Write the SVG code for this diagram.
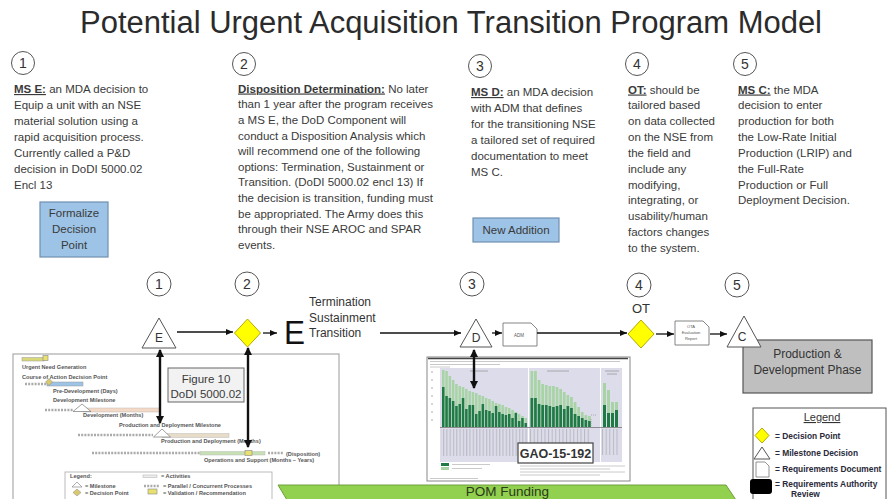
<svg xmlns="http://www.w3.org/2000/svg" width="887" height="499" viewBox="0 0 887 499">
<defs>
<style>
text{font-family:"Liberation Sans",Arial,sans-serif}
.t{font-size:11.5px;fill:#3a3a3a}
.b{font-weight:bold;text-decoration:underline}
.num{font-size:14px;fill:#333;text-anchor:middle}
.circ{fill:#fff;stroke:#555;stroke-width:1}
.conn{stroke:#111;stroke-width:1.3;fill:none;marker-end:url(#ah)}
.dbl{stroke:#111;stroke-width:2.4;fill:none;marker-end:url(#ah2);marker-start:url(#ah2)}
.ms{fill:#fff;stroke:#555;stroke-width:1}
.dp{fill:#FFFF00;stroke:#B8A800;stroke-width:1}
.tiny{font-size:5.6px;font-weight:bold;fill:#555}
.leg{font-size:8.4px;font-weight:bold;fill:#2a2a3a}
.dash{stroke:#aaa;stroke-width:2.4;stroke-dasharray:2 1.2;fill:none}
</style>
<marker id="ah" markerWidth="7" markerHeight="6" refX="7" refY="3" orient="auto" markerUnits="userSpaceOnUse"><path d="M0,0L7,3L0,6z" fill="#111"/></marker>
<marker id="ah2" markerWidth="8" markerHeight="8" refX="7" refY="4" orient="auto-start-reverse" markerUnits="userSpaceOnUse"><path d="M0,0L8,4L0,8z" fill="#111"/></marker>
<pattern id="vlab" width="3.3" height="4" patternUnits="userSpaceOnUse"><rect x="1" y="0" width="0.9" height="4" fill="#b0b0b8"/></pattern>
<pattern id="vlab2" width="3.6" height="4" patternUnits="userSpaceOnUse"><rect x="1" y="0" width="0.9" height="4" fill="#b0b0b8"/></pattern>
</defs>
<rect width="887" height="499" fill="#fff"/>

<text x="451" y="33" font-size="31" fill="#2b2b2b" text-anchor="middle" textLength="742" lengthAdjust="spacingAndGlyphs">Potential Urgent Acquisition Transition Program Model</text>

<!-- top description blocks -->
<g id="desc1">
<circle class="circ" cx="23" cy="63" r="11.5"/><text class="num" x="23" y="68">1</text>
<text class="t" x="14" y="93"><tspan class="b">MS E:</tspan> an MDA decision to</text>
<text class="t" x="14" y="109">Equip a unit with an NSE</text>
<text class="t" x="14" y="125">material solution using a</text>
<text class="t" x="14" y="141">rapid acquisition process.</text>
<text class="t" x="14" y="157">Currently called  a P&amp;D</text>
<text class="t" x="14" y="173">decision in DoDI 5000.02</text>
<text class="t" x="14" y="189">Encl 13</text>
</g>
<g id="formalize">
<rect x="40" y="202" width="68" height="55" fill="#9DC3E6" stroke="#7090B0" stroke-width="1.2"/>
<text class="t" x="74" y="217" text-anchor="middle">Formalize</text>
<text class="t" x="74" y="233" text-anchor="middle">Decision</text>
<text class="t" x="74" y="249" text-anchor="middle">Point</text>
</g>
<g id="desc2">
<circle class="circ" cx="244" cy="64" r="11.5"/><text class="num" x="244" y="69">2</text>
<text class="t" x="238" y="92.5"><tspan class="b">Disposition Determination:</tspan> No later</text>
<text class="t" x="238" y="108.2">than 1 year after the program receives</text>
<text class="t" x="238" y="123.8">a MS E, the DoD Component will</text>
<text class="t" x="238" y="139.5">conduct a Disposition Analysis which</text>
<text class="t" x="238" y="155.1">will recommend one of the following</text>
<text class="t" x="238" y="170.8">options: Termination, Sustainment or</text>
<text class="t" x="238" y="186.4">Transition. (DoDI 5000.02 encl 13)  If</text>
<text class="t" x="238" y="202.1">the decision is transition, funding must</text>
<text class="t" x="238" y="217.7">be appropriated.  The Army does this</text>
<text class="t" x="238" y="233.4">through their NSE AROC and SPAR</text>
<text class="t" x="238" y="249">events.</text>
</g>
<g id="desc3">
<circle class="circ" cx="480" cy="66" r="11.5"/><text class="num" x="480" y="71">3</text>
<text class="t" x="471" y="96"><tspan class="b">MS D:</tspan> an MDA decision</text>
<text class="t" x="471" y="112">with ADM that defines</text>
<text class="t" x="471" y="128">for the transitioning NSE</text>
<text class="t" x="471" y="144">a tailored set of required</text>
<text class="t" x="471" y="160">documentation to meet</text>
<text class="t" x="471" y="176">MS C.</text>
</g>
<g id="newaddition">
<rect x="473" y="218" width="86" height="24" fill="#9DC3E6" stroke="#7090B0" stroke-width="1.2"/>
<text class="t" x="516" y="234" text-anchor="middle">New Addition</text>
</g>
<g id="desc4">
<circle class="circ" cx="637" cy="64" r="11.5"/><text class="num" x="637" y="69">4</text>
<text class="t" x="628" y="93.5"><tspan class="b">OT:</tspan>  should be</text>
<text class="t" x="628" y="109.3">tailored based</text>
<text class="t" x="628" y="125.2">on data collected</text>
<text class="t" x="628" y="141">on the NSE from</text>
<text class="t" x="628" y="156.9">the field and</text>
<text class="t" x="628" y="172.7">include any</text>
<text class="t" x="628" y="188.6">modifying,</text>
<text class="t" x="628" y="204.4">integrating, or</text>
<text class="t" x="628" y="220.3">usability/human</text>
<text class="t" x="628" y="236.1">factors changes</text>
<text class="t" x="628" y="252">to the system.</text>
</g>
<g id="desc5">
<circle class="circ" cx="745" cy="64" r="11.5"/><text class="num" x="745" y="69">5</text>
<text class="t" x="738" y="93.5"><tspan class="b">MS C:</tspan> the MDA</text>
<text class="t" x="738" y="109.3">decision to enter</text>
<text class="t" x="738" y="125.2">production for both</text>
<text class="t" x="738" y="141">the Low-Rate Initial</text>
<text class="t" x="738" y="156.9">Production (LRIP) and</text>
<text class="t" x="738" y="172.7">the Full-Rate</text>
<text class="t" x="738" y="188.6">Production or Full</text>
<text class="t" x="738" y="204.4">Deployment Decision.</text>
</g>

<!-- left figure (DoDI 5000.02 Figure 10) -->
<g id="figure10">
<rect x="13" y="354" width="326" height="160" fill="#fff" stroke="#999" stroke-width="1"/>
<rect x="22" y="357.5" width="22" height="3.5" fill="#D8D87A" stroke="#999" stroke-width="0.5"/>
<rect x="43" y="355.5" width="5" height="5" fill="#E8E070" stroke="#888" stroke-width="0.6"/>
<text class="tiny" x="22" y="369">Urgent Need Generation</text>
<text class="tiny" x="22" y="379">Course of Action Decision Point</text>
<path class="dash" d="M25,384H47"/>
<rect x="47" y="382" width="36" height="4" fill="#9DC3E6" stroke="#999" stroke-width="0.5"/>
<path d="M49,378.5L52.5,382L49,385.5L45.5,382z" fill="#D8C870" stroke="#888" stroke-width="0.5"/>
<text class="tiny" x="53" y="393">Pre-Development  (Days)</text>
<text class="tiny" x="53" y="402">Development Milestone</text>
<path class="dash" d="M45,410H73"/>
<rect x="83" y="408" width="77" height="4" fill="#F4D9C6" stroke="#bbb" stroke-width="0.5"/>
<path d="M82,404L91,411.5H73z" fill="#fff" stroke="#777" stroke-width="0.7"/>
<text class="tiny" x="83" y="417">Development (Months)</text>
<text class="tiny" x="119" y="427">Production and Deployment Milestone</text>
<path class="dash" d="M78,435H153"/>
<rect x="162" y="433.5" width="67" height="4" fill="#E6DCC8" stroke="#bbb" stroke-width="0.5"/>
<path d="M162,429L170.5,437H153.5z" fill="#fff" stroke="#777" stroke-width="0.7"/>
<text class="tiny" x="161" y="443">Production and Deployment (Months)</text>
<path class="dash" d="M92,453H200"/>
<rect x="200" y="451.5" width="65" height="3.5" fill="#C6E0B4" stroke="#bbb" stroke-width="0.5"/>
<rect x="245" y="450.5" width="7" height="5" fill="#E8E070" stroke="#888" stroke-width="0.6"/>
<path class="dash" d="M268,453H283"/>
<text class="tiny" x="286" y="456">(Disposition)</text>
<text class="tiny" x="204" y="462">Operations and Support (Months – Years)</text>
<rect x="65" y="472" width="207" height="40" fill="#fff" stroke="#aaa" stroke-width="0.8"/>
<text class="tiny" x="70" y="478">Legend:</text>
<path d="M77,482L82,487H72z" fill="#fff" stroke="#777" stroke-width="0.6"/>
<text class="tiny" x="85" y="488">= Milestone</text>
<path d="M77,489L81,492.5L77,496L73,492.5z" fill="#D8C870" stroke="#888" stroke-width="0.5"/>
<text class="tiny" x="85" y="495">= Decision Point</text>
<rect x="143" y="475" width="14" height="2.5" fill="#eee" stroke="#aaa" stroke-width="0.5"/>
<text class="tiny" x="161" y="478">= Activities</text>
<path class="dash" d="M144,486H160" stroke-width="2"/>
<text class="tiny" x="163" y="488">= Parallel / Concurrent Processes</text>
<rect x="148" y="489" width="9" height="5" fill="#E8E070" stroke="#888" stroke-width="0.6"/>
<text class="tiny" x="163" y="495">= Validation / Recommendation</text>
<rect x="168" y="368" width="76" height="34" fill="#F2F2F2" stroke="#666" stroke-width="1"/>
<text class="t" x="206" y="383" text-anchor="middle" font-size="12">Figure 10</text>
<text class="t" x="206" y="398" text-anchor="middle" font-size="12">DoDI 5000.02</text>
</g>

<!-- GAO chart -->
<g id="gao">
<rect x="427" y="357" width="203" height="124" fill="#fff" stroke="#888" stroke-width="1"/>
<path d="M428,358.5H628" stroke="#444" stroke-width="1.4"/>
<path d="M430,361.5H620M430,364.5H500M430,367H450" stroke="#bbb" stroke-width="0.8"/>
<rect x="440" y="368" width="88" height="94" fill="#DCDCEA"/>
<rect x="529" y="368" width="71" height="94" fill="#DCDCEA"/>
<rect x="601" y="368" width="21" height="94" fill="#DCDCEA"/>
<path d="M431,372h2M431,380h2M431,388h2M431,396h2M431,404h2M431,412h2M431,420h2" stroke="#999" stroke-width="0.8"/>
<path d="M470,371h18M547,371h22M605,371h14M607,374h10" stroke="#999" stroke-width="0.8"/>
<path fill="#A7D3A5" d="M442,370h2.5V427h-2.5ZM445.3,371h2.5V427h-2.5ZM448.6,376h2.5V427h-2.5ZM451.9,380h2.5V427h-2.5ZM455.2,384h2.5V427h-2.5ZM458.5,386h2.5V427h-2.5ZM461.8,387h2.5V427h-2.5ZM465.1,389h2.5V427h-2.5ZM468.4,391h2.5V427h-2.5ZM471.7,392h2.5V427h-2.5ZM475,393h2.5V427h-2.5ZM478.3,395h2.5V427h-2.5ZM481.6,396h2.5V427h-2.5ZM484.9,398h2.5V427h-2.5ZM488.2,399h2.5V427h-2.5ZM491.5,401h2.5V427h-2.5ZM494.8,403h2.5V427h-2.5ZM498.1,404h2.5V427h-2.5ZM501.4,405h2.5V427h-2.5ZM504.7,407h2.5V427h-2.5ZM508,408h2.5V427h-2.5ZM511.3,410h2.5V427h-2.5ZM514.6,412h2.5V427h-2.5ZM517.9,414h2.5V427h-2.5ZM521.2,416h2.5V427h-2.5ZM524.5,418h2.5V427h-2.5Z
M530.5,371h2.7V427h-2.7ZM534.1,371h2.7V427h-2.7ZM537.7,380h2.7V427h-2.7ZM541.3,384h2.7V427h-2.7ZM544.9,385h2.7V427h-2.7ZM548.5,386h2.7V427h-2.7ZM552.1,386h2.7V427h-2.7ZM555.7,387h2.7V427h-2.7ZM559.3,389h2.7V427h-2.7ZM562.9,392h2.7V427h-2.7ZM566.5,395h2.7V427h-2.7ZM570.1,397h2.7V427h-2.7ZM573.7,402h2.7V427h-2.7ZM577.3,407h2.7V427h-2.7ZM580.9,412h2.7V427h-2.7ZM584.5,415h2.7V427h-2.7ZM588.1,416h2.7V427h-2.7Z
M603,383h3V427h-3ZM607,390h3V427h-3ZM611,402h3V427h-3ZM615,402h3V427h-3Z"/>
<path fill="#1F7A45" d="M442,387h2.5V427h-2.5ZM445.3,396h2.5V427h-2.5ZM448.6,398h2.5V427h-2.5ZM451.9,401h2.5V427h-2.5ZM455.2,406h2.5V427h-2.5ZM458.5,404h2.5V427h-2.5ZM461.8,398h2.5V427h-2.5ZM465.1,409h2.5V427h-2.5ZM468.4,405h2.5V427h-2.5ZM471.7,405h2.5V427h-2.5ZM475,414h2.5V427h-2.5ZM478.3,411h2.5V427h-2.5ZM481.6,404h2.5V427h-2.5ZM484.9,410h2.5V427h-2.5ZM488.2,411h2.5V427h-2.5ZM491.5,413h2.5V427h-2.5ZM494.8,406h2.5V427h-2.5ZM498.1,412h2.5V427h-2.5ZM501.4,414h2.5V427h-2.5ZM504.7,415h2.5V427h-2.5ZM508,414h2.5V427h-2.5ZM511.3,418h2.5V427h-2.5ZM514.6,413h2.5V427h-2.5ZM517.9,421h2.5V427h-2.5ZM521.2,418h2.5V427h-2.5ZM524.5,423h2.5V427h-2.5Z
M530.5,398h2.7V427h-2.7ZM534.1,398h2.7V427h-2.7ZM537.7,404h2.7V427h-2.7ZM541.3,405h2.7V427h-2.7ZM544.9,405h2.7V427h-2.7ZM548.5,406h2.7V427h-2.7ZM552.1,407h2.7V427h-2.7ZM555.7,406h2.7V427h-2.7ZM559.3,405h2.7V427h-2.7ZM562.9,409h2.7V427h-2.7ZM566.5,406h2.7V427h-2.7ZM570.1,408h2.7V427h-2.7ZM573.7,414h2.7V427h-2.7ZM577.3,416h2.7V427h-2.7ZM580.9,418h2.7V427h-2.7ZM584.5,420h2.7V427h-2.7ZM588.1,421h2.7V427h-2.7Z
M603,405h3V427h-3ZM607,413h3V427h-3ZM611,413h3V427h-3ZM615,410h3V427h-3Z"/>
<path d="M591,415h6M591,419v8" stroke="#999" stroke-width="0.8" stroke-dasharray="1 1"/>
<path d="M440,427.5H622" stroke="#777" stroke-width="0.8"/>
<rect x="441" y="429" width="86" height="27" fill="url(#vlab)" opacity="0.9"/>
<rect x="530" y="429" width="61" height="24" fill="url(#vlab2)" opacity="0.9"/>
<rect x="602" y="429" width="18" height="26" fill="url(#vlab2)" opacity="0.9"/>
<rect x="441" y="463" width="8" height="3" fill="#1F7A45"/>
<rect x="441" y="467" width="8" height="3" fill="#A7D3A5"/>
<path d="M452,464.5H490M452,468.5H482M520,466H625M520,469H610M520,472H625M520,475H600M430,478.5H478" stroke="#c4c4c4" stroke-width="0.9"/>
<rect x="518" y="443" width="75" height="20" fill="#fff" stroke="#444" stroke-width="1.2"/>
<text x="555.5" y="457.5" font-size="12.5" font-weight="bold" fill="#333" text-anchor="middle">GAO-15-192</text>
</g>

<!-- POM funding arrow -->
<g id="pom">
<path d="M278,485H726L746,515L726,545H278L296,515z" fill="#92D050" stroke="#6FA03A" stroke-width="1"/>
<text x="507.5" y="496" font-size="13.5" fill="#2a3a1a" text-anchor="middle">POM Funding</text>
</g>

<!-- production box -->
<g id="production">
<rect x="743" y="340" width="129" height="53" fill="#BFBFBF" stroke="#555" stroke-width="1.2"/>
<text x="807.5" y="358" font-size="12" fill="#333" text-anchor="middle">Production &amp;</text>
<text x="807.5" y="374" font-size="12" fill="#333" text-anchor="middle">Development Phase</text>
</g>

<!-- legend -->
<g id="legend">
<rect x="753" y="408" width="133" height="100" fill="#fff" stroke="#555" stroke-width="1"/>
<text x="822" y="421" font-size="11" fill="#333" text-anchor="middle" text-decoration="underline">Legend</text>
<path d="M762,428L769,435.5L762,443L755,435.5z" class="dp"/>
<text class="leg" x="775" y="439">= Decision Point</text>
<path d="M762,447L770,459H754z" class="ms"/>
<text class="leg" x="775" y="456">= Milestone Decision</text>
<path d="M756,462H765L769,466V477H756z" fill="#fff" stroke="#777" stroke-width="0.8"/>
<text class="leg" x="775" y="472">= Requirements Document</text>
<rect x="750" y="479" width="22" height="15" rx="3" fill="#000"/>
<text class="leg" x="775" y="487">= Requirements Authority</text>
<text class="leg" x="791" y="497">Review</text>
</g>

<!-- timeline nodes -->
<g id="n1">
<circle class="circ" cx="159" cy="284" r="12"/><text class="num" x="159" y="289">1</text>
<path d="M159,318L176,348H142z" class="ms"/>
<text x="159" y="342" font-size="12" fill="#333" text-anchor="middle">E</text>
</g>
<g id="n2">
<circle class="circ" cx="247" cy="284" r="12"/><text class="num" x="247" y="289">2</text>
<path d="M247.5,319L260.5,333L247.5,347L234.5,333z" class="dp"/>
</g>
<g id="options">
<text x="284" y="343.5" font-size="34" fill="#111" textLength="21" lengthAdjust="spacingAndGlyphs">E</text>
<text x="309" y="306" font-size="12" fill="#333">Termination</text>
<text x="309" y="321.5" font-size="12" fill="#333">Sustainment</text>
<text x="309" y="337" font-size="12" fill="#333">Transition</text>
</g>
<g id="n3">
<circle class="circ" cx="472" cy="284" r="12"/><text class="num" x="472" y="289">3</text>
<path d="M476,319L492,347H460z" class="ms"/>
<text x="476" y="342" font-size="12" fill="#333" text-anchor="middle">D</text>
</g>
<g id="adm">
<path d="M503,323H531L537,329V346H503z" fill="#fff" stroke="#777" stroke-width="0.9"/>
<text x="519" y="336.5" font-size="4.5" fill="#555" text-anchor="middle">ADM</text>
</g>
<g id="n4">
<circle class="circ" cx="639" cy="285" r="12"/><text class="num" x="639" y="290">4</text>
<text x="641" y="313" font-size="13" fill="#333" text-anchor="middle">OT</text>
<path d="M641,320L654,334L641,348L628,334z" class="dp"/>
</g>
<g id="ota">
<path d="M675,321H703L709,327V345H675z" fill="#fff" stroke="#777" stroke-width="0.9"/>
<text x="691" y="327.5" font-size="4" fill="#555" text-anchor="middle">OTA</text>
<text x="691" y="333.5" font-size="4" fill="#555" text-anchor="middle">Evaluation</text>
<text x="691" y="339.5" font-size="4" fill="#555" text-anchor="middle">Report</text>
</g>
<g id="n5">
<circle class="circ" cx="737" cy="285" r="12"/><text class="num" x="737" y="290">5</text>
<path d="M744,316L761,347H727z" class="ms"/>
<text x="742" y="341" font-size="12" fill="#333" text-anchor="middle">C</text>
</g>

<!-- connectors -->
<g id="connectors">
<path class="conn" d="M177,332H233"/>
<path class="conn" d="M263,333H277"/>
<path class="conn" d="M380,333H461"/>
<path class="conn" d="M492,333H502"/>
<path class="conn" d="M537,333H627"/>
<path class="conn" d="M656,334H674"/>
<path class="conn" d="M710,334H727"/>
<path class="dbl" d="M160,350V423"/>
<path class="dbl" d="M248,348V447"/>
<path class="dbl" d="M474,350V388"/>
</g>
</svg>
